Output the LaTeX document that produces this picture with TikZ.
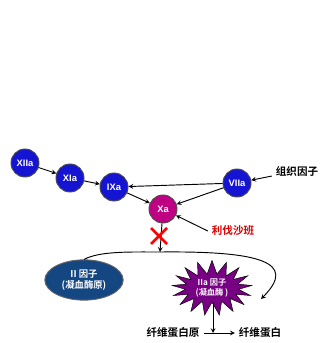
\documentclass[tikz,border=0pt]{standalone}
\usepackage{fontspec}
\setmainfont{Liberation Sans}
\newfontfamily\cjk{Noto Sans CJK SC}[BoldFont={* Bold}]
\usetikzlibrary{shapes.geometric,shapes.symbols}
\definecolor{factorblue}{RGB}{20,20,210}
\definecolor{xamagenta}{RGB}{190,0,130}
\definecolor{ovalblue}{RGB}{20,70,130}
\definecolor{burstpurple}{RGB}{120,0,130}
\tikzset{
  factor/.style={circle, draw=black!70, thick, fill=factorblue, text=white,
    minimum size=0.84cm, inner sep=0pt, font=\bfseries\footnotesize},
  cn/.style={font=\cjk\bfseries\small},
  arr/.style={thick, -stealth}
}
\begin{document}
\begin{tikzpicture}[x=0.03cm, y=-0.03cm]
\useasboundingbox (0,0) rectangle (322,343);
% cascade
\node[factor] (xii) at (25,163) {XIIa};
\node[factor] (xi) at (70,178) {XIa};
\node[factor] (ix) at (114,187) {IXa};
\node[factor, fill=xamagenta] (xa) at (163,209) {Xa};
\node[factor] (vii) at (237,183) {VIIa};
\node[cn] (tf) at (297,171) {组织因子};
\node[cn, text=red!85!black] (riva) at (233,231) {利伐沙班};
\draw[arr] (xii) -- (xi);
\draw[arr] (xi) -- (ix);
\draw[arr] (ix) -- (xa);
\draw[arr] (vii) -- (ix);
\draw[arr] (vii) -- (xa);
\draw[arr] (tf) -- (vii);
\draw[arr] (riva.west) -- (xa);
% thrombin
\node[ellipse, draw=black!60, thick, fill=ovalblue, text=white, minimum width=2.35cm,
  minimum height=1.15cm, align=center, font=\cjk\bfseries\footnotesize] (ii) at (84,280) {II 因子\\(凝血酶原)};
\node[starburst, starburst points=17, starburst point height=0.4cm, random starburst=0,
  draw=black, fill=burstpurple, text=white, minimum width=2.4cm, minimum height=1.5cm,
  align=center, inner sep=1pt, font=\cjk\bfseries\scriptsize] (iia) at (212,288) {IIa 因子\\(凝血酶 )};
\coordinate (top) at (160,252);
\coordinate (tip) at (261,299);
\draw[arr] (xa) -- (top);
\draw[thick] (ii.north) .. controls (100,251) and (130,252) .. (top);
\draw[arr] (top) .. controls (260,251) and (298,262) .. (tip);
\draw[red, line width=2.2pt] (151,228) -- (167,244) (151,244) -- (167,228);
% fibrin
\node[cn] (fgn) at (173,333) {纤维蛋白原};
\node[cn] (fib) at (260,333) {纤维蛋白};
\coordinate (meet) at (213,333);
\draw[arr] (fgn) -- (fib);
\draw[arr] (iia.south -| meet) -- (meet);
\end{tikzpicture}
\end{document}
